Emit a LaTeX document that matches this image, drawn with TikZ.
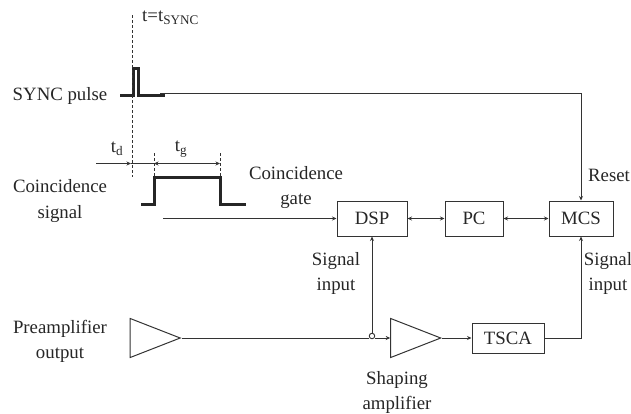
\documentclass[tikz,border=0pt]{standalone}
\usepackage{fontspec}
\setmainfont{Liberation Serif}
\usetikzlibrary{positioning, calc, arrows.meta, shapes.geometric}

\begin{document}
\begin{tikzpicture}[
    x=1pt,
    y=-1pt,
    >={Stealth[length=4.5pt,width=4pt]},
    every node/.style={
        font=\fontsize{18.8}{25}\selectfont,
        text=black!85,
    },
    label/.style={
        align=center,
        inner sep=0pt,
    },
    module/.style={
        draw=black!80,
        line width=1pt,
        inner sep=0pt,
        minimum height=35pt,
    },
    amp/.style={
        draw=black!80,
        line width=1pt,
        isosceles triangle,
        isosceles triangle stretches,
        shape border rotate=0,
        inner sep=0pt,
        minimum width=39pt,
        minimum height=50pt,
        anchor=apex,
    },
    junction/.style={
        draw=black!80,
        line width=0.9pt,
        circle,
        inner sep=0pt,
        minimum size=5.5pt,
    },
    arrow/.style={
        ->,
        draw=black!80,
        line width=1pt,
    },
    both/.style={
        <->,
        draw=black!80,
        line width=1pt,
    },
    pulse/.style={
        draw=black!85,
        line width=3pt,
    },
    marker/.style={
        draw=black!80,
        line width=0.8pt,
        densely dashed,
    },
]

    \useasboundingbox (0,0) rectangle (631,413);

    \node[module, minimum width=70pt] (DSP) at (372,218.5) {DSP};
    \node[module, minimum width=58pt] (PC) at (474,218.5) {PC};
    \node[module, minimum width=64pt] (MCS) at (581,218.5) {MCS};
    \node[module, minimum width=72pt, minimum height=30pt] (TSCA) at (508,338) {TSCA};
    \node[amp] (preamp) at (181.5,338) {};
    \node[amp] (shaper) at (442,338) {};
    \node[junction] (branch) at (372,336) {};

    \node[label] (syncLabel) at (60,96) {SYNC pulse};
    \node[label] (coincLabel) at (60,201) {Coincidence\\signal};
    \node[label] (gateLabel) at (296,188) {Coincidence\\gate};
    \node[label] (resetLabel) at (609,175) {Reset};
    \node[label] (dspInput) at (336,273) {Signal\\input};
    \node[label] (mcsInput) at (608,273) {Signal\\input};
    \node[label] (preLabel) at (60,341) {Preamplifier\\output};
    \node[label] (shaperLabel) at (397,392) {Shaping\\amplifier};
    \node[label, anchor=west] (syncTime) at (142,18) {t=t\textsubscript{SYNC}};
    \node[label] (tdLabel) at (117,149) {t\textsubscript{d}};
    \node[label] (tgLabel) at (181,149) {t\textsubscript{g}};

    \coordinate (syncEnd) at (160,93);
    \coordinate (gateStart) at (163,218.5);
    \coordinate (tdStart) at (96,163.5);
    \coordinate (zero) at (131,163.5);
    \coordinate (gateOpen) at (154,163.5);
    \coordinate (gateClose) at (220,163.5);
    \coordinate (branchIn) at (369,338);
    \coordinate (branchOut) at (375,338);

    \draw[pulse] (120,95) -- (133,95) -- (133,68) -- (138.5,68) -- (138.5,95) -- (165,95);
    \draw[pulse] (141,204) -- (154,204) -- (154,177) -- (220,177) -- (220,204) -- (246,204);

    \draw[marker] (132,15) -- (132,177);
    \draw[marker] (154,153) -- (154,177);
    \draw[marker] (220,153) -- (220,177);

    \draw[arrow] (tdStart) -- (zero);
    \draw[arrow, -] (zero) -- (gateOpen);
    \draw[both] (gateOpen) -- (gateClose);

    \draw[arrow] (syncEnd) -| (MCS.north);
    \draw[arrow] (gateStart) -- (DSP.west);
    \draw[both] (DSP) -- (PC);
    \draw[both] (PC) -- (MCS);
    \draw[arrow, -] (preamp.apex) -- (branchIn);
    \draw[arrow] (branchOut) -- (shaper.west);
    \draw[arrow] (branch) -- (DSP.south);
    \draw[arrow] (shaper.apex) -- (TSCA);
    \draw[arrow] (TSCA.east) -| (MCS.south);

\end{tikzpicture}
\end{document}
